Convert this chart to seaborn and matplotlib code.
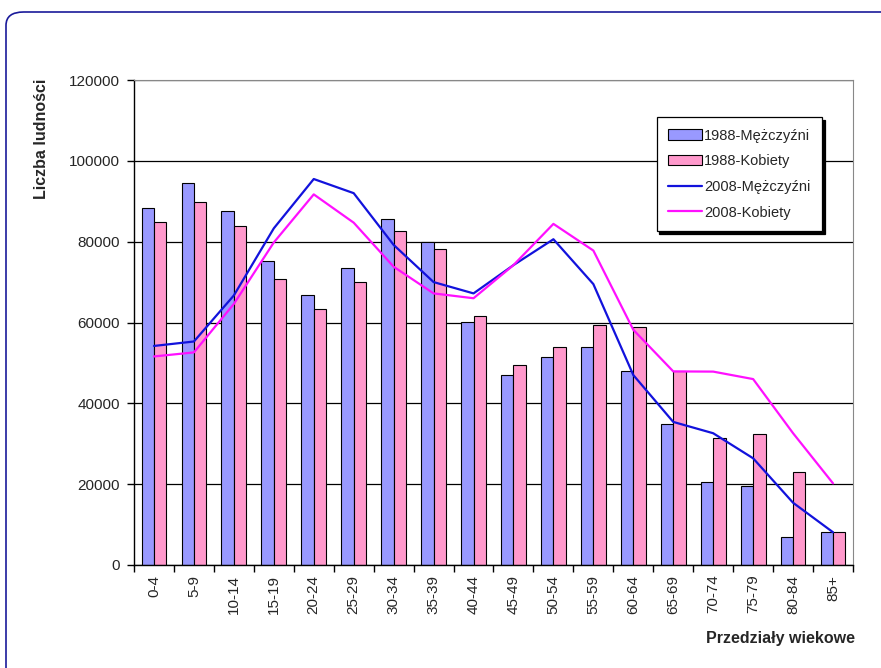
import matplotlib
matplotlib.use("Agg")
import matplotlib.pyplot as plt
import numpy as np
import pandas as pd
import seaborn as sns
from matplotlib.patches import FancyBboxPatch, Patch
from matplotlib.lines import Line2D
from matplotlib.ticker import FixedLocator

age_groups = ["0-4", "5-9", "10-14", "15-19", "20-24", "25-29", "30-34", "35-39",
              "40-44", "45-49", "50-54", "55-59", "60-64", "65-69", "70-74", "75-79",
              "80-84", "85+"]
men_1988 = [88300, 94500, 87700, 75100, 66900, 73400, 85600, 79900, 60100,
            47000, 51400, 54000, 47900, 34900, 20600, 19600, 7000, 8100]
women_1988 = [84900, 89900, 83800, 70800, 63300, 70100, 82700, 78200, 61700,
              49400, 53900, 59300, 59000, 48100, 31350, 32400, 23100, 8100]
men_2008 = [54200, 55300, 66700, 83300, 95500, 92000, 79200, 70000, 67200,
            74200, 80600, 69500, 47000, 35400, 32600, 26400, 15400, 8100]
women_2008 = [51600, 52600, 64600, 79800, 91700, 84700, 73800, 67200, 66000,
              74200, 84400, 77800, 58200, 47900, 47850, 46000, 32600, 20200]

series_bars = ["1988-Mężczyźni", "1988-Kobiety"]
series_lines = ["2008-Mężczyźni", "2008-Kobiety"]
bar_colors = ["#9999FF", "#FF99CC"]
line_colors = ["#1212DC", "#FF10FF"]

bars = pd.DataFrame({
    "grupa": age_groups * 2,
    "liczba": men_1988 + women_1988,
    "seria": [series_bars[0]] * len(age_groups) + [series_bars[1]] * len(age_groups),
})

sns.set_style("white")
plt.rcParams["font.family"] = ["Liberation Sans", "DejaVu Sans"]

fig = plt.figure(figsize=(8.81, 6.68), dpi=100)
ax = fig.add_axes([134 / 881, 1 - 565 / 668, 719 / 881, 485 / 668])

# rounded frame around the slide
frame = FancyBboxPatch((6 / 881, -0.1), 1.1, 1 - 12 / 668 + 0.1,
                       boxstyle="round,pad=0,rounding_size=0.02",
                       transform=fig.transFigure, fill=False,
                       edgecolor="#1a1a9a", linewidth=1.2, zorder=0)
fig.patches.append(frame)

sns.barplot(data=bars, x="grupa", y="liczba", hue="seria", order=age_groups,
            hue_order=series_bars, palette=bar_colors, width=0.62,
            edgecolor="black", linewidth=0.8, saturation=1, ax=ax, legend=False)

x = np.arange(len(age_groups))
for vals, col in zip([men_2008, women_2008], line_colors):
    sns.lineplot(x=x, y=vals, color=col, linewidth=1.6, ax=ax, zorder=3)

ax.set_xlim(-0.5, len(age_groups) - 0.5)
ax.set_ylim(0, 120000)
ax.set_yticks(np.arange(0, 120001, 20000))
ax.yaxis.grid(True, color="black", linewidth=0.9)
ax.set_axisbelow(True)

for s in ["top", "right"]:
    ax.spines[s].set_color("#888888")
    ax.spines[s].set_linewidth(0.8)
for s in ["left", "bottom"]:
    ax.spines[s].set_color("black")
    ax.spines[s].set_linewidth(1.0)

ax.set_xticks(x)
ax.set_xticklabels(age_groups, rotation=90, fontsize=11)
ax.xaxis.set_minor_locator(FixedLocator(np.arange(-0.5, len(age_groups), 1)))
ax.tick_params(axis="x", which="major", length=0, pad=7)
ax.tick_params(axis="x", which="minor", length=5, width=1, color="black", direction="out", bottom=True)
ax.tick_params(axis="y", length=5, width=1, color="black", direction="out", left=True,
               labelsize=11, pad=5)

ax.set_xlabel("")
ax.set_ylabel("")
fig.text(42 / 881, 1 - 139 / 668, "Liczba ludności", rotation=90, fontsize=11.5,
         fontweight="bold", ha="center", va="center")
fig.text(855 / 881, 1 - 638 / 668, "Przedziały wiekowe", fontsize=11.5,
         fontweight="bold", ha="right", va="center")

handles = [Patch(facecolor=c, edgecolor="black", linewidth=0.8) for c in bar_colors]
handles += [Line2D([], [], color=c, linewidth=1.6) for c in line_colors]
leg = ax.legend(handles, series_bars + series_lines, loc="upper right",
                bbox_to_anchor=(0.957, 0.924), fontsize=10.5, frameon=True,
                fancybox=False, edgecolor="black", framealpha=1,
                shadow={"color": "black", "alpha": 1, "ox": 2, "oy": -2},
                handlelength=2.3, handleheight=0.7, labelspacing=0.8,
                borderpad=0.8, handletextpad=0.15, borderaxespad=0)
leg.get_frame().set_linewidth(0.9)

fig.savefig("out.png", dpi=100)
